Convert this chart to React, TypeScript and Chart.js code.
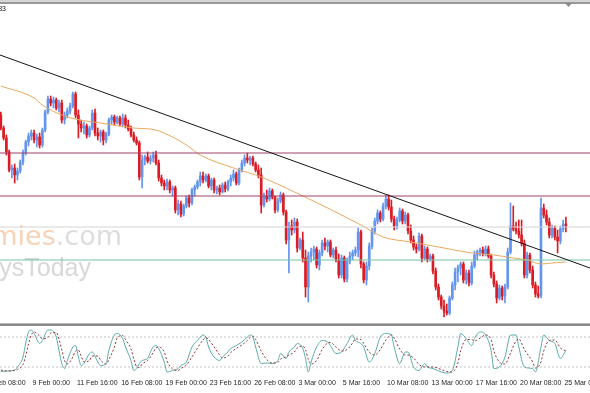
import React, { useEffect, useRef } from 'react';
import { Chart, registerables } from 'chart.js';

Chart.register(...registerables);

// ---- H4 candles (price) ----
const barOpen = [
  1.3885,1.3872,1.3862,1.3848,1.3830,1.3832,1.3825,1.3829,1.3838,1.3847,
  1.3858,1.3864,1.3867,1.3860,1.3863,1.3855,1.3870,1.3888,1.3901,1.3897,
  1.3900,1.3892,1.3897,1.3880,1.3885,1.3889,1.3894,1.3906,1.3885,1.3876,
  1.3872,1.3874,1.3865,1.3872,1.3887,1.3867,1.3864,1.3868,1.3860,1.3866,
  1.3880,1.3883,1.3878,1.3882,1.3876,1.3882,1.3875,1.3871,1.3865,1.3860,
  1.3857,1.3823,1.3840,1.3843,1.3839,1.3842,1.3845,1.3837,1.3822,1.3817,
  1.3814,1.3818,1.3810,1.3812,1.3790,1.3796,1.3786,1.3794,1.3802,1.3797,
  1.3810,1.3813,1.3818,1.3824,1.3820,1.3824,1.3814,1.3820,1.3810,1.3812,
  1.3808,1.3815,1.3811,1.3818,1.3822,1.3826,1.3817,1.3830,1.3837,1.3842,
  1.3840,1.3842,1.3836,1.3830,1.3825,1.3795,1.3804,1.3801,1.3809,1.3803,
  1.3790,1.3799,1.3805,1.3788,1.3760,1.3774,1.3770,1.3778,1.3752,1.3760,
  1.3742,1.3713,1.3744,1.3748,1.3751,1.3735,1.3747,1.3757,1.3754,1.3758,
  1.3745,1.3750,1.3740,1.3725,1.3742,1.3721,1.3739,1.3744,1.3747,1.3750,
  1.3768,1.3736,1.3720,1.3734,1.3754,1.3769,1.3779,1.3787,1.3781,1.3794,
  1.3801,1.3793,1.3781,1.3774,1.3780,1.3789,1.3779,1.3785,1.3769,1.3760,
  1.3753,1.3751,1.3764,1.3742,1.3751,1.3741,1.3744,1.3729,1.3713,1.3703,
  1.3694,1.3689,1.3687,1.3702,1.3715,1.3728,1.3732,1.3736,1.3720,1.3727,
  1.3717,1.3734,1.3745,1.3748,1.3750,1.3746,1.3751,1.3744,1.3725,1.3716,
  1.3702,1.3712,1.3704,1.3713,1.3748,1.3774,1.3771,1.3769,1.3765,1.3757,
  1.3725,1.3745,1.3730,1.3715,1.3706,1.3704,1.3792,1.3785,1.3778,1.3765,
  1.3772,1.3763,1.3759,1.3771,1.3776
];
const barHigh = [
  1.3888,1.3874,1.3865,1.3850,1.3835,1.3836,1.3832,1.3840,1.3850,1.3860,
  1.3867,1.3870,1.3870,1.3866,1.3867,1.3872,1.3890,1.3904,1.3904,1.3903,
  1.3902,1.3900,1.3900,1.3888,1.3892,1.3897,1.3908,1.3908,1.3890,1.3880,
  1.3878,1.3876,1.3874,1.3890,1.3891,1.3872,1.3870,1.3870,1.3868,1.3882,
  1.3885,1.3885,1.3884,1.3884,1.3886,1.3885,1.3880,1.3874,1.3868,1.3863,
  1.3859,1.3845,1.3845,1.3848,1.3845,1.3848,1.3849,1.3840,1.3825,1.3820,
  1.3821,1.3820,1.3814,1.3814,1.3800,1.3799,1.3796,1.3804,1.3805,1.3812,
  1.3815,1.3820,1.3828,1.3828,1.3826,1.3826,1.3822,1.3822,1.3814,1.3815,
  1.3817,1.3818,1.3820,1.3825,1.3830,1.3828,1.3832,1.3840,1.3845,1.3847,
  1.3844,1.3844,1.3838,1.3835,1.3832,1.3807,1.3810,1.3812,1.3811,1.3804,
  1.3802,1.3808,1.3807,1.3790,1.3778,1.3780,1.3782,1.3781,1.3762,1.3768,
  1.3750,1.3748,1.3752,1.3754,1.3753,1.3750,1.3760,1.3762,1.3760,1.3760,
  1.3752,1.3753,1.3746,1.3745,1.3744,1.3742,1.3748,1.3750,1.3753,1.3772,
  1.3770,1.3738,1.3738,1.3757,1.3772,1.3782,1.3790,1.3789,1.3797,1.3805,
  1.3805,1.3800,1.3784,1.3783,1.3792,1.3791,1.3788,1.3787,1.3775,1.3764,
  1.3756,1.3767,1.3766,1.3754,1.3753,1.3746,1.3746,1.3732,1.3716,1.3705,
  1.3700,1.3696,1.3704,1.3718,1.3732,1.3735,1.3738,1.3738,1.3730,1.3730,
  1.3738,1.3749,1.3750,1.3752,1.3753,1.3754,1.3754,1.3746,1.3728,1.3719,
  1.3715,1.3714,1.3716,1.3752,1.3797,1.3794,1.3778,1.3780,1.3780,1.3760,
  1.3748,1.3747,1.3734,1.3718,1.3714,1.3802,1.3796,1.3790,1.3782,1.3775,
  1.3774,1.3770,1.3774,1.3780,1.3783
];
const barLow = [
  1.3870,1.3860,1.3845,1.3828,1.3822,1.3817,1.3820,1.3827,1.3835,1.3845,
  1.3854,1.3860,1.3857,1.3853,1.3852,1.3853,1.3868,1.3886,1.3894,1.3892,
  1.3890,1.3888,1.3877,1.3876,1.3882,1.3886,1.3892,1.3882,1.3862,1.3868,
  1.3866,1.3862,1.3863,1.3870,1.3864,1.3860,1.3858,1.3855,1.3857,1.3864,
  1.3876,1.3875,1.3876,1.3874,1.3873,1.3872,1.3869,1.3863,1.3858,1.3855,
  1.3820,1.3812,1.3835,1.3837,1.3836,1.3838,1.3835,1.3819,1.3814,1.3810,
  1.3810,1.3807,1.3804,1.3787,1.3785,1.3783,1.3784,1.3792,1.3793,1.3795,
  1.3804,1.3811,1.3814,1.3817,1.3818,1.3812,1.3810,1.3807,1.3806,1.3805,
  1.3807,1.3808,1.3809,1.3814,1.3819,1.3815,1.3815,1.3828,1.3834,1.3837,
  1.3835,1.3834,1.3828,1.3822,1.3787,1.3793,1.3798,1.3799,1.3801,1.3787,
  1.3788,1.3797,1.3785,1.3756,1.3727,1.3765,1.3767,1.3748,1.3750,1.3738,
  1.3703,1.3698,1.3738,1.3740,1.3732,1.3730,1.3744,1.3750,1.3748,1.3743,
  1.3742,1.3738,1.3722,1.3722,1.3718,1.3718,1.3736,1.3740,1.3744,1.3743,
  1.3732,1.3717,1.3715,1.3730,1.3751,1.3766,1.3776,1.3778,1.3779,1.3791,
  1.3790,1.3778,1.3770,1.3771,1.3778,1.3776,1.3776,1.3766,1.3757,1.3750,
  1.3747,1.3749,1.3738,1.3740,1.3738,1.3739,1.3726,1.3710,1.3700,1.3691,
  1.3683,1.3685,1.3685,1.3700,1.3710,1.3718,1.3725,1.3717,1.3716,1.3714,
  1.3715,1.3732,1.3740,1.3744,1.3744,1.3744,1.3742,1.3722,1.3713,1.3697,
  1.3700,1.3700,1.3697,1.3711,1.3746,1.3769,1.3766,1.3762,1.3754,1.3722,
  1.3722,1.3727,1.3712,1.3703,1.3702,1.3702,1.3782,1.3775,1.3762,1.3762,
  1.3760,1.3747,1.3756,1.3768,1.3768
];
const barClose = [
  1.3872,1.3862,1.3848,1.3830,1.3832,1.3825,1.3829,1.3838,1.3847,1.3858,
  1.3864,1.3867,1.3860,1.3863,1.3855,1.3870,1.3888,1.3901,1.3897,1.3900,
  1.3892,1.3897,1.3880,1.3885,1.3889,1.3894,1.3906,1.3885,1.3876,1.3872,
  1.3874,1.3865,1.3872,1.3887,1.3867,1.3864,1.3868,1.3860,1.3866,1.3880,
  1.3883,1.3878,1.3882,1.3876,1.3882,1.3875,1.3871,1.3865,1.3860,1.3857,
  1.3823,1.3840,1.3843,1.3839,1.3842,1.3845,1.3837,1.3822,1.3817,1.3814,
  1.3818,1.3810,1.3812,1.3790,1.3796,1.3786,1.3794,1.3802,1.3797,1.3810,
  1.3813,1.3818,1.3824,1.3820,1.3824,1.3814,1.3820,1.3810,1.3812,1.3808,
  1.3815,1.3811,1.3818,1.3822,1.3826,1.3817,1.3830,1.3837,1.3842,1.3840,
  1.3842,1.3836,1.3830,1.3825,1.3795,1.3804,1.3801,1.3809,1.3803,1.3790,
  1.3799,1.3805,1.3788,1.3760,1.3774,1.3770,1.3778,1.3752,1.3760,1.3742,
  1.3713,1.3744,1.3748,1.3751,1.3735,1.3747,1.3757,1.3754,1.3758,1.3745,
  1.3750,1.3740,1.3725,1.3742,1.3721,1.3739,1.3744,1.3747,1.3750,1.3768,
  1.3736,1.3720,1.3734,1.3754,1.3769,1.3779,1.3787,1.3781,1.3794,1.3801,
  1.3793,1.3781,1.3774,1.3780,1.3789,1.3779,1.3785,1.3769,1.3760,1.3753,
  1.3751,1.3764,1.3742,1.3751,1.3741,1.3744,1.3729,1.3713,1.3703,1.3694,
  1.3689,1.3687,1.3702,1.3715,1.3728,1.3732,1.3736,1.3720,1.3727,1.3717,
  1.3734,1.3745,1.3748,1.3750,1.3746,1.3751,1.3744,1.3725,1.3716,1.3702,
  1.3712,1.3704,1.3713,1.3748,1.3774,1.3771,1.3769,1.3765,1.3757,1.3725,
  1.3745,1.3730,1.3715,1.3706,1.3704,1.3792,1.3785,1.3778,1.3765,1.3772,
  1.3763,1.3759,1.3771,1.3776,1.3774
];

// ---- moving average (sampled at bars) ----
const maBars = [0, 12, 15, 24, 36, 48, 56, 62, 67, 72, 84, 94, 106, 118, 130, 138, 148, 160, 170, 178, 185, 190, 195, 199, 204];
const maValues = [1.3914, 1.3902, 1.3895, 1.3883, 1.3877, 1.3872, 1.3870, 1.3863, 1.3855, 1.3845, 1.3832, 1.3823, 1.3808, 1.3792, 1.3775, 1.3763, 1.3758, 1.3752, 1.3747, 1.3745, 1.3742, 1.3740, 1.3736, 1.3737, 1.3738];

// ---- horizontal levels & trend line ----
const resistanceLevels = [1.3847, 1.3804];
const pivotLevel = 1.3773;
const supportLevel = 1.3740;
const trendBars = [-0.3, 212.7];
const trendPrices = [1.3945, 1.3732];

// ---- stochastic (sampled at bars) ----
const stochBars = [0,2,5,6,8,9,10,11,12,14,15,17,18,20,21,22,23,24,26,27,28,29,30,32,33,35,36,38,39,41,42,44,45,47,48,49,50,51,53,54,55,56,57,59,60,62,64,65,67,69,71,73,74,75,77,79,80,82,83,85,87,89,90,91,92,94,96,98,100,101,103,104,106,107,109,110,111,112,114,116,118,119,121,123,125,127,128,130,131,133,135,137,139,141,142,144,146,147,149,151,153,154,156,159,161,163,165,166,168,170,171,173,175,177,178,180,182,184,186,187,189,192,193,195,196,198,200,202,204];
const stochK = [11,12,14,20,40,68,90,94,87,67,73,94,94,80,53,27,17,33,60,63,40,23,27,47,50,30,23,27,53,84,87,77,60,33,13,17,27,33,37,50,60,63,57,30,10,13,17,23,30,60,73,84,80,60,40,33,40,50,57,63,70,80,84,80,60,27,28,27,33,47,37,50,60,67,57,37,10,30,60,73,70,63,47,50,67,84,73,67,60,30,47,80,87,84,60,27,50,50,20,13,27,20,17,10,8,13,60,87,77,63,77,90,84,53,17,20,40,84,84,60,20,17,10,60,84,73,67,37,53];
const stochD = [14,12,13,15,25,43,66,84,90,82,76,80,88,89,76,54,33,26,40,52,54,42,30,33,42,42,34,26,35,60,78,83,75,56,36,21,19,26,33,40,49,58,60,50,32,16,13,17,24,40,58,74,79,75,60,44,38,42,49,57,64,73,79,82,75,52,35,28,29,36,40,44,50,58,62,54,35,26,33,55,68,69,60,52,55,68,76,75,67,50,44,55,74,84,78,56,44,44,38,25,20,20,20,15,11,10,28,52,75,75,72,78,84,75,52,30,26,48,72,76,55,30,18,30,52,73,74,58,52];
const stochLevels = [80, 20];

// ---- time axis ----
const timeLabelBars = [-4, 12, 28, 44, 60, 76, 92, 108, 124, 140, 156, 172, 188, 204];
const timeLabels = ['4 Feb 08:00', '9 Feb 00:00', '11 Feb 16:00', '16 Feb 08:00', '19 Feb 00:00', '23 Feb 16:00', '26 Feb 08:00', '3 Mar 00:00', '5 Mar 16:00', '10 Mar 08:00', '13 Mar 00:00', '17 Mar 16:00', '20 Mar 08:00', '25 Mar 00:00'];

const X_MIN = -0.3;
const X_MAX = 212.7;
const PRICE_MIN = 1.3678;
const PRICE_MAX = 1.3996;

const UP = '#6495ed';
const DOWN = '#dc1c24';

const hline = (price: number, color: string, order: number) => ({
  type: 'line' as const,
  data: [{ x: X_MIN, y: price }, { x: X_MAX, y: price }],
  borderColor: color,
  borderWidth: 1,
  pointRadius: 0,
  order,
});

const mainDecor = {
  id: 'mainDecor',
  beforeDatasetsDraw(chart: any) {
    const ctx = chart.ctx as CanvasRenderingContext2D;
    ctx.save();
    ctx.textBaseline = 'alphabetic';
    ctx.textAlign = 'right';
    ctx.font = '27px "DejaVu Sans"';
    ctx.fillStyle = '#dddddd';
    ctx.fillText('.com', 122, 245);
    const w = ctx.measureText('.com').width;
    ctx.fillStyle = '#f8d2b6';
    ctx.fillText('Economies', 122 - w, 245);
    ctx.font = '25px "Liberation Sans"';
    ctx.fillStyle = '#d8d8d8';
    ctx.fillText('ysToday', 91, 276);
    ctx.restore();
  },
  afterDraw(chart: any) {
    const ctx = chart.ctx as CanvasRenderingContext2D;
    ctx.save();
    ctx.fillStyle = '#d4d4d4';
    ctx.fillRect(0, 0, 590, 2);
    ctx.fillStyle = '#999999';
    ctx.fillRect(0, 2, 590, 2);
    ctx.fillStyle = '#b8b8b8';
    ctx.fillRect(0, 323, 590, 1);
    ctx.fillStyle = '#8a8a8a';
    ctx.fillRect(0, 324, 590, 2);
    ctx.fillStyle = '#111';
    ctx.font = '7px "Liberation Sans"';
    ctx.textAlign = 'right';
    ctx.textBaseline = 'middle';
    ctx.fillText('1.3833', 6, 9);
    ctx.fillStyle = '#8c8c8c';
    ctx.beginPath();
    ctx.moveTo(565, 3);
    ctx.lineTo(572, 3);
    ctx.lineTo(568.5, 7);
    ctx.closePath();
    ctx.fill();
    ctx.restore();
  },
};

const subDecor = {
  id: 'subDecor',
  afterDraw(chart: any) {
    const ctx = chart.ctx as CanvasRenderingContext2D;
    const xs = chart.scales.x;
    ctx.save();
    ctx.fillStyle = '#1e1e1e';
    ctx.font = '7px "Liberation Sans"';
    ctx.textAlign = 'left';
    ctx.textBaseline = 'middle';
    timeLabelBars.forEach((b, i) => {
      ctx.fillText(timeLabels[i], xs.getPixelForValue(b) - 1.5, 57);
    });
    ctx.restore();
  },
};

export default function App() {
  const mainRef = useRef<HTMLCanvasElement>(null);
  const subRef = useRef<HTMLCanvasElement>(null);

  useEffect(() => {
    const colors = barClose.map((c, i) => (c >= barOpen[i] ? UP : DOWN));
    const main = new Chart(mainRef.current as HTMLCanvasElement, {
      type: 'bar',
      data: {
        datasets: [
          {
            type: 'line',
            data: trendBars.map((b, i) => ({ x: b, y: trendPrices[i] })),
            borderColor: '#151515',
            borderWidth: 1,
            pointRadius: 0,
            order: 0,
          } as any,
          hline(resistanceLevels[0], '#a0426a', 0.3),
          hline(resistanceLevels[1], '#a0426a', 0.3),
          hline(pivotLevel, '#d4d4d4', 0.3),
          hline(supportLevel, '#79c3a2', 0.3),
          {
            type: 'line',
            data: maBars.map((b, i) => ({ x: b, y: maValues[i] })),
            borderColor: '#eba85c',
            borderWidth: 1,
            pointRadius: 0,
            cubicInterpolationMode: 'monotone',
            order: 0.6,
          } as any,
          {
            type: 'bar',
            data: barOpen.map((o, i) => ({ x: i, y: [o, barClose[i]] })),
            backgroundColor: colors,
            barThickness: 2,
            grouped: false,
            borderWidth: 0,
            order: 1,
          } as any,
          {
            type: 'bar',
            data: barLow.map((l, i) => ({ x: i, y: [l, barHigh[i]] })),
            backgroundColor: colors,
            barThickness: 1,
            grouped: false,
            borderWidth: 0,
            order: 2,
          } as any,
        ],
      },
      options: {
        animation: false,
        responsive: false,
        devicePixelRatio: 1,
        events: [],
        layout: { padding: { top: 4, bottom: 4, left: 0, right: 0 } },
        plugins: { legend: { display: false }, tooltip: { enabled: false } },
        scales: {
          x: { type: 'linear', min: X_MIN, max: X_MAX, offset: false, display: false },
          y: { type: 'linear', min: PRICE_MIN, max: PRICE_MAX, display: false },
        },
      } as any,
      plugins: [mainDecor],
    });

    const sub = new Chart(subRef.current as HTMLCanvasElement, {
      type: 'line',
      data: {
        datasets: [
          {
            data: stochBars.map((b, i) => ({ x: b, y: stochK[i] })),
            borderColor: '#5aabab',
            borderWidth: 1,
            pointRadius: 0,
            cubicInterpolationMode: 'monotone',
            order: 1,
          },
          {
            data: stochBars.map((b, i) => ({ x: b, y: stochD[i] })),
            borderColor: '#8e3636',
            borderWidth: 1,
            borderDash: [2, 2],
            pointRadius: 0,
            cubicInterpolationMode: 'monotone',
            order: 0,
          },
          ...stochLevels.map((v) => ({
            data: [{ x: X_MIN, y: v }, { x: X_MAX, y: v }],
            borderColor: '#c4c4c4',
            borderWidth: 1,
            borderDash: [2, 2],
            pointRadius: 0,
            order: 2,
          })),
        ],
      },
      options: {
        animation: false,
        responsive: false,
        devicePixelRatio: 1,
        events: [],
        layout: { padding: { top: 1, bottom: 16, left: 0, right: 0 } },
        plugins: { legend: { display: false }, tooltip: { enabled: false } },
        scales: {
          x: { type: 'linear', min: X_MIN, max: X_MAX, offset: false, display: false },
          y: { type: 'linear', min: 0, max: 100, display: false },
        },
      } as any,
      plugins: [subDecor],
    });

    return () => {
      main.destroy();
      sub.destroy();
    };
  }, []);

  return (
    <div style={{ position: 'absolute', left: 0, top: 0, width: 590, height: 393, background: '#ffffff', overflow: 'hidden' }}>
      <canvas ref={mainRef} width={590} height={326} style={{ position: 'absolute', left: 0, top: 0 }} />
      <canvas ref={subRef} width={590} height={67} style={{ position: 'absolute', left: 0, top: 326 }} />
    </div>
  );
}
